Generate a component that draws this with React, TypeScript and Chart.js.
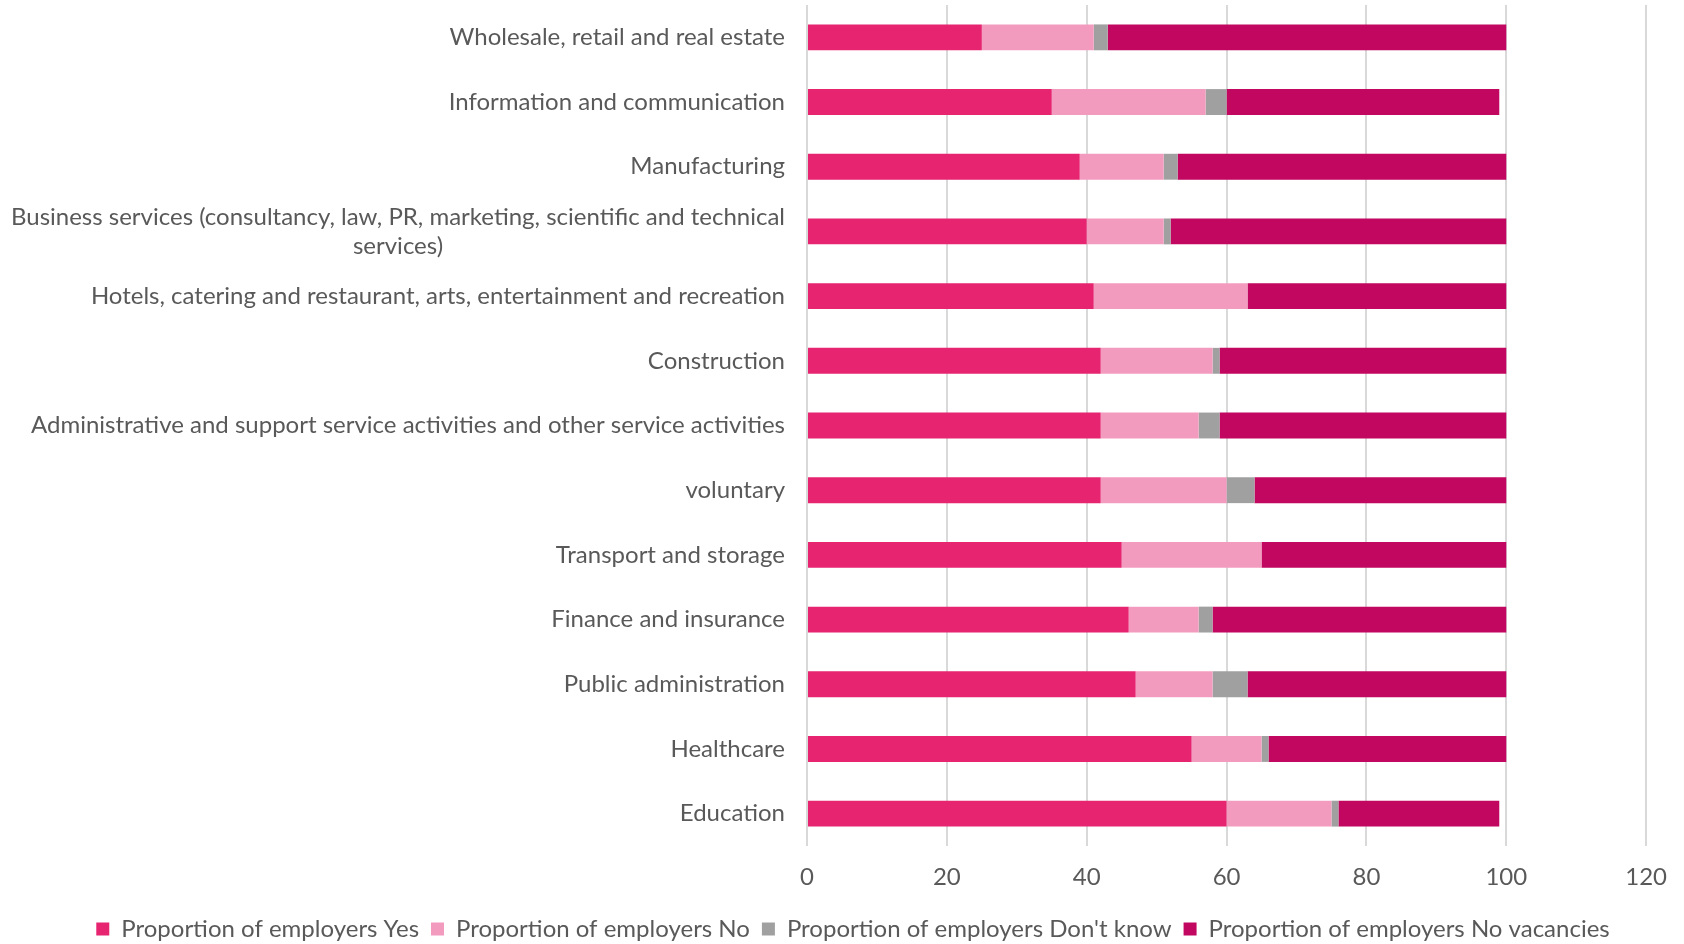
import React, { useEffect, useRef } from "react";
import { Chart, registerables } from "chart.js";

Chart.register(...registerables);

const categories: (string | string[])[] = [
  "Wholesale, retail and real estate",
  "Information and communication",
  "Manufacturing",
  ["Business services (consultancy, law, PR, marketing, scientific and technical", "services)"],
  "Hotels, catering and restaurant, arts, entertainment and recreation",
  "Construction",
  "Administrative and support service activities and other service activities",
  "voluntary",
  "Transport and storage",
  "Finance and insurance",
  "Public administration",
  "Healthcare",
  "Education",
];

const yesValues = [25, 35, 39, 40, 41, 42, 42, 42, 45, 46, 47, 55, 60];
const noValues = [16, 22, 12, 11, 22, 16, 14, 18, 20, 10, 11, 10, 15];
const dontKnowValues = [2, 3, 2, 1, 0, 1, 3, 4, 0, 2, 5, 1, 1];
const noVacancyValues = [57, 39, 47, 48, 37, 41, 41, 36, 35, 42, 37, 34, 23];

const seriesNames = [
  "Proportion of employers Yes",
  "Proportion of employers No",
  "Proportion of employers Don't know",
  "Proportion of employers No vacancies",
];
const seriesColors = ["#E62470", "#F39BBE", "#A0A0A0", "#C20760"];

const xTicks = [0, 20, 40, 60, 80, 100, 120];

const FONT = "Lato, 'Open Sans', sans-serif";
const TEXT = "#595959";

const yLabelPlugin = {
  id: "yLabels",
  afterDraw(chart: any) {
    const ctx = chart.ctx;
    const y = chart.scales.y;
    const right = chart.chartArea.left - 22;
    ctx.save();
    ctx.font = `24px ${FONT}`;
    ctx.fillStyle = TEXT;
    ctx.textBaseline = "middle";
    categories.forEach((lab, i) => {
      const py = y.getPixelForValue(i);
      if (Array.isArray(lab)) {
        const lh = 29;
        const w0 = ctx.measureText(lab[0]).width;
        const center = right - w0 / 2;
        const startY = py - ((lab.length - 1) * lh) / 2;
        lab.forEach((line, j) => {
          ctx.textAlign = "center";
          ctx.fillText(line, center, startY + j * lh);
        });
      } else {
        ctx.textAlign = "right";
        ctx.fillText(lab, right, py);
      }
    });
    ctx.restore();
  },
};

export default function App() {
  const ref = useRef<HTMLCanvasElement | null>(null);
  useEffect(() => {
    document.body.style.margin = "0";
    if (!ref.current) return;
    const data = [yesValues, noValues, dontKnowValues, noVacancyValues];
    const chart = new Chart(ref.current, {
      type: "bar",
      data: {
        labels: categories.map((c) => (Array.isArray(c) ? c.join(" ") : c)),
        datasets: seriesNames.map((name, i) => ({
          label: name,
          data: data[i],
          backgroundColor: seriesColors[i],
          borderWidth: 0,
          barPercentage: 0.4,
          categoryPercentage: 1,
        })),
      },
      options: {
        indexAxis: "y",
        animation: false,
        responsive: false,
        maintainAspectRatio: false,
        layout: { padding: { top: 5, right: 26, left: 48, bottom: -7 } },
        scales: {
          x: {
            stacked: true,
            min: 0,
            max: 120,
            afterBuildTicks: (s: any) => {
              s.ticks = xTicks.map((v) => ({ value: v }));
            },
            afterFit: (s: any) => {
              s.height = 59;
            },
            ticks: {
              color: TEXT,
              font: { family: FONT, size: 24 },
              padding: 17,
            },
            grid: { color: "#D9D9D9", lineWidth: 2, drawTicks: false },
            border: { display: false },
          },
          y: {
            stacked: true,
            ticks: { display: false },
            grid: { display: false },
            border: { display: false },
            afterFit: (s: any) => {
              s.width = 759;
            },
          },
        },
        plugins: {
          legend: {
            position: "bottom",
            labels: {
              color: TEXT,
              font: { family: FONT, size: 24 },
              boxWidth: 13,
              boxHeight: 13,
              padding: 12,
            },
          },
          tooltip: { enabled: false },
        },
      },
      plugins: [yLabelPlugin],
    });
    return () => chart.destroy();
  }, []);
  return (
    <div style={{ position: "absolute", left: 0, top: 0, width: 1684, height: 944 }}>
      <canvas ref={ref} width={1684} height={944} style={{ width: 1684, height: 944 }} />
    </div>
  );
}
